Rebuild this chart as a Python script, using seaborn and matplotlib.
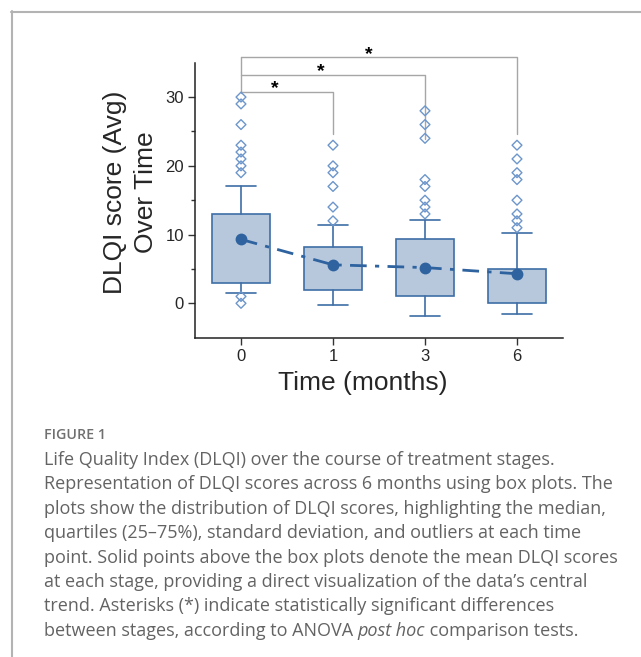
import numpy as np
import pandas as pd
import matplotlib
matplotlib.use("Agg")
import matplotlib.pyplot as plt
from matplotlib.lines import Line2D
from matplotlib.ticker import FixedLocator
import seaborn as sns

# ---------------- data ----------------
times = ["0", "1", "3", "6"]
q1 = [3.0, 2.0, 1.0, 0.0]
q3 = [13.0, 8.2, 9.3, 5.0]
whisk_lo = [1.55, -0.2, -1.8, -1.55]
whisk_hi = [17.1, 11.4, 12.1, 10.2]
means = [9.3, 5.6, 5.2, 4.3]
out_0 = [30, 29, 26, 23, 22, 21, 20, 19, 1, 0]
out_1 = [23, 20, 19, 17, 14, 12]
out_3 = [28, 26, 24, 18, 17, 15, 14, 13]
out_6 = [23, 21, 19, 18, 15, 13, 12, 11]
outliers = [out_0, out_1, out_3, out_6]
# significance pairs (index a, index b, bar height, drop end)
sig_pairs = [(0, 1, 30.7, 24.6), (0, 2, 33.25, 23.9), (0, 3, 35.77, 24.6)]

BOX_FACE = "#b7c8dc"
BOX_EDGE = "#3e6ea6"
MEAN_C = "#2e63a0"
OUT_C = "#6d96cb"

sns.set_theme(style="ticks")
plt.rcParams["font.family"] = ["Liberation Sans", "DejaVu Sans"]

fig = plt.figure(figsize=(6.41, 6.57), dpi=100)
ax_w = 563 - 195
ax_h = 337.7 - 62.7
ax = fig.add_axes([195 / 641, 1 - 337.7 / 657, ax_w / 641, ax_h / 657])

# boxes
stats = []
for i, t in enumerate(times):
    stats.append(dict(label=t, q1=q1[i], q3=q3[i], med=(q1[i] + q3[i]) / 2,
                      whislo=whisk_lo[i], whishi=whisk_hi[i], fliers=[]))
ax.bxp(stats, positions=range(len(times)), widths=0.64, capwidths=0.33,
       patch_artist=True, showfliers=False,
       boxprops=dict(facecolor=BOX_FACE, edgecolor=BOX_EDGE, linewidth=1.2),
       whiskerprops=dict(color=BOX_EDGE, linewidth=1.2),
       capprops=dict(color=BOX_EDGE, linewidth=1.2),
       medianprops=dict(visible=False), manage_ticks=False, zorder=2)

# outliers
df_out = pd.DataFrame({"time": [t for t, o in zip(times, outliers) for _ in o],
                       "score": [v for o in outliers for v in o]})
n_before = len(ax.collections)
sns.stripplot(data=df_out, x="time", y="score", order=times, jitter=False,
              marker="D", size=5, color=OUT_C, linewidth=1, ax=ax, zorder=3)
for c in ax.collections[n_before:]:
    c.set_facecolor("none")
    c.set_edgecolor(OUT_C)
    c.set_linewidth(1.0)

# means
df_mean = pd.DataFrame({"time": times, "score": means})
sns.pointplot(data=df_mean, x="time", y="score", order=times, color=MEAN_C,
              linestyles=(0, (6, 3, 1.5, 3)), markers="o", markersize=7,
              linewidth=2, ax=ax, errorbar=None, zorder=4)

# significance brackets
for a, b, h, drop in sig_pairs:
    ax.plot([a, b, b], [h, h, drop], color="#a6a6a6", lw=1.0, clip_on=False, zorder=1)
ax.plot([0, 0], [sig_pairs[-1][2], sig_pairs[0][2] - 0.1], color="#a6a6a6", lw=1.0,
        clip_on=False, zorder=1)
star_x = [0.37, 0.87, 1.39]
star_y = [31.55, 34.0, 36.5]
for sx, sy in zip(star_x, star_y):
    ax.text(sx, sy, "*", ha="center", va="center_baseline", fontsize=14,
            fontweight="bold", color="black", clip_on=False)

ax.set_xlim(-0.5, 3.5)
ax.set_ylim(-5, 35)
ax.set_yticks([0, 10, 20, 30])
ax.yaxis.set_minor_locator(FixedLocator([5, 15, 25]))
ax.tick_params(axis="both", which="major", labelsize=12, length=5, width=1,
               color="#333333", direction="out", pad=3)
ax.tick_params(axis="y", which="minor", length=3, width=1, color="#333333")
ax.set_xlabel("Time (months)", fontsize=19)
ax.set_ylabel("DLQI score (Avg)\nOver Time", fontsize=19, linespacing=1.35)
ax.xaxis.set_label_coords((362.5 - 195) / ax_w, -(383 - 337.7) / ax_h)
ax.yaxis.set_label_coords(-(195 - 130.5) / ax_w, (337.7 - 192) / ax_h)
ax.xaxis.label.set_va("center")
ax.yaxis.label.set_va("center")
for s in ["top", "right"]:
    ax.spines[s].set_visible(False)
for s in ["left", "bottom"]:
    ax.spines[s].set_linewidth(1.1)
    ax.spines[s].set_color("#222222")

# frame
fig.add_artist(Line2D([11 / 641, 1], [1 - 11.5 / 657, 1 - 11.5 / 657], color="#b3b3b3", lw=1.5))
fig.add_artist(Line2D([11.5 / 641, 11.5 / 641], [0, 1 - 11 / 657], color="#b3b3b3", lw=1.5))

# caption
cap_font = ["Open Sans", "DejaVu Sans"]
fig.text(44 / 641, 1 - 435 / 657, "FIGURE 1", fontsize=10.3, color="#707070",
         family=cap_font, fontweight="semibold", va="center")
lines = [
    "Life Quality Index (DLQI) over the course of treatment stages.",
    "Representation of DLQI scores across 6 months using box plots. The",
    "plots show the distribution of DLQI scores, highlighting the median,",
    "quartiles (25\u201375%), standard deviation, and outliers at each time",
    "point. Solid points above the box plots denote the mean DLQI scores",
    "at each stage, providing a direct visualization of the data\u2019s central",
    "trend. Asterisks (*) indicate statistically significant differences",
]
y0 = 460
dy = 24.4
cap_kw = dict(fontsize=13, color="#636363", family=cap_font, va="center")
for i, ln in enumerate(lines):
    fig.text(44 / 641, 1 - (y0 + i * dy) / 657, ln, **cap_kw)
yl = 1 - (y0 + 7 * dy) / 657
t1 = fig.text(44 / 641, yl, "between stages, according to ANOVA ", **cap_kw)
fig.canvas.draw()
r = fig.canvas.get_renderer()
bb = t1.get_window_extent(r)
t2 = fig.text(bb.x1 / fig.bbox.width, yl, "post hoc", style="italic", **cap_kw)
bb2 = t2.get_window_extent(r)
fig.text(bb2.x1 / fig.bbox.width, yl, " comparison tests.", **cap_kw)

fig.savefig("out.png", dpi=100)
